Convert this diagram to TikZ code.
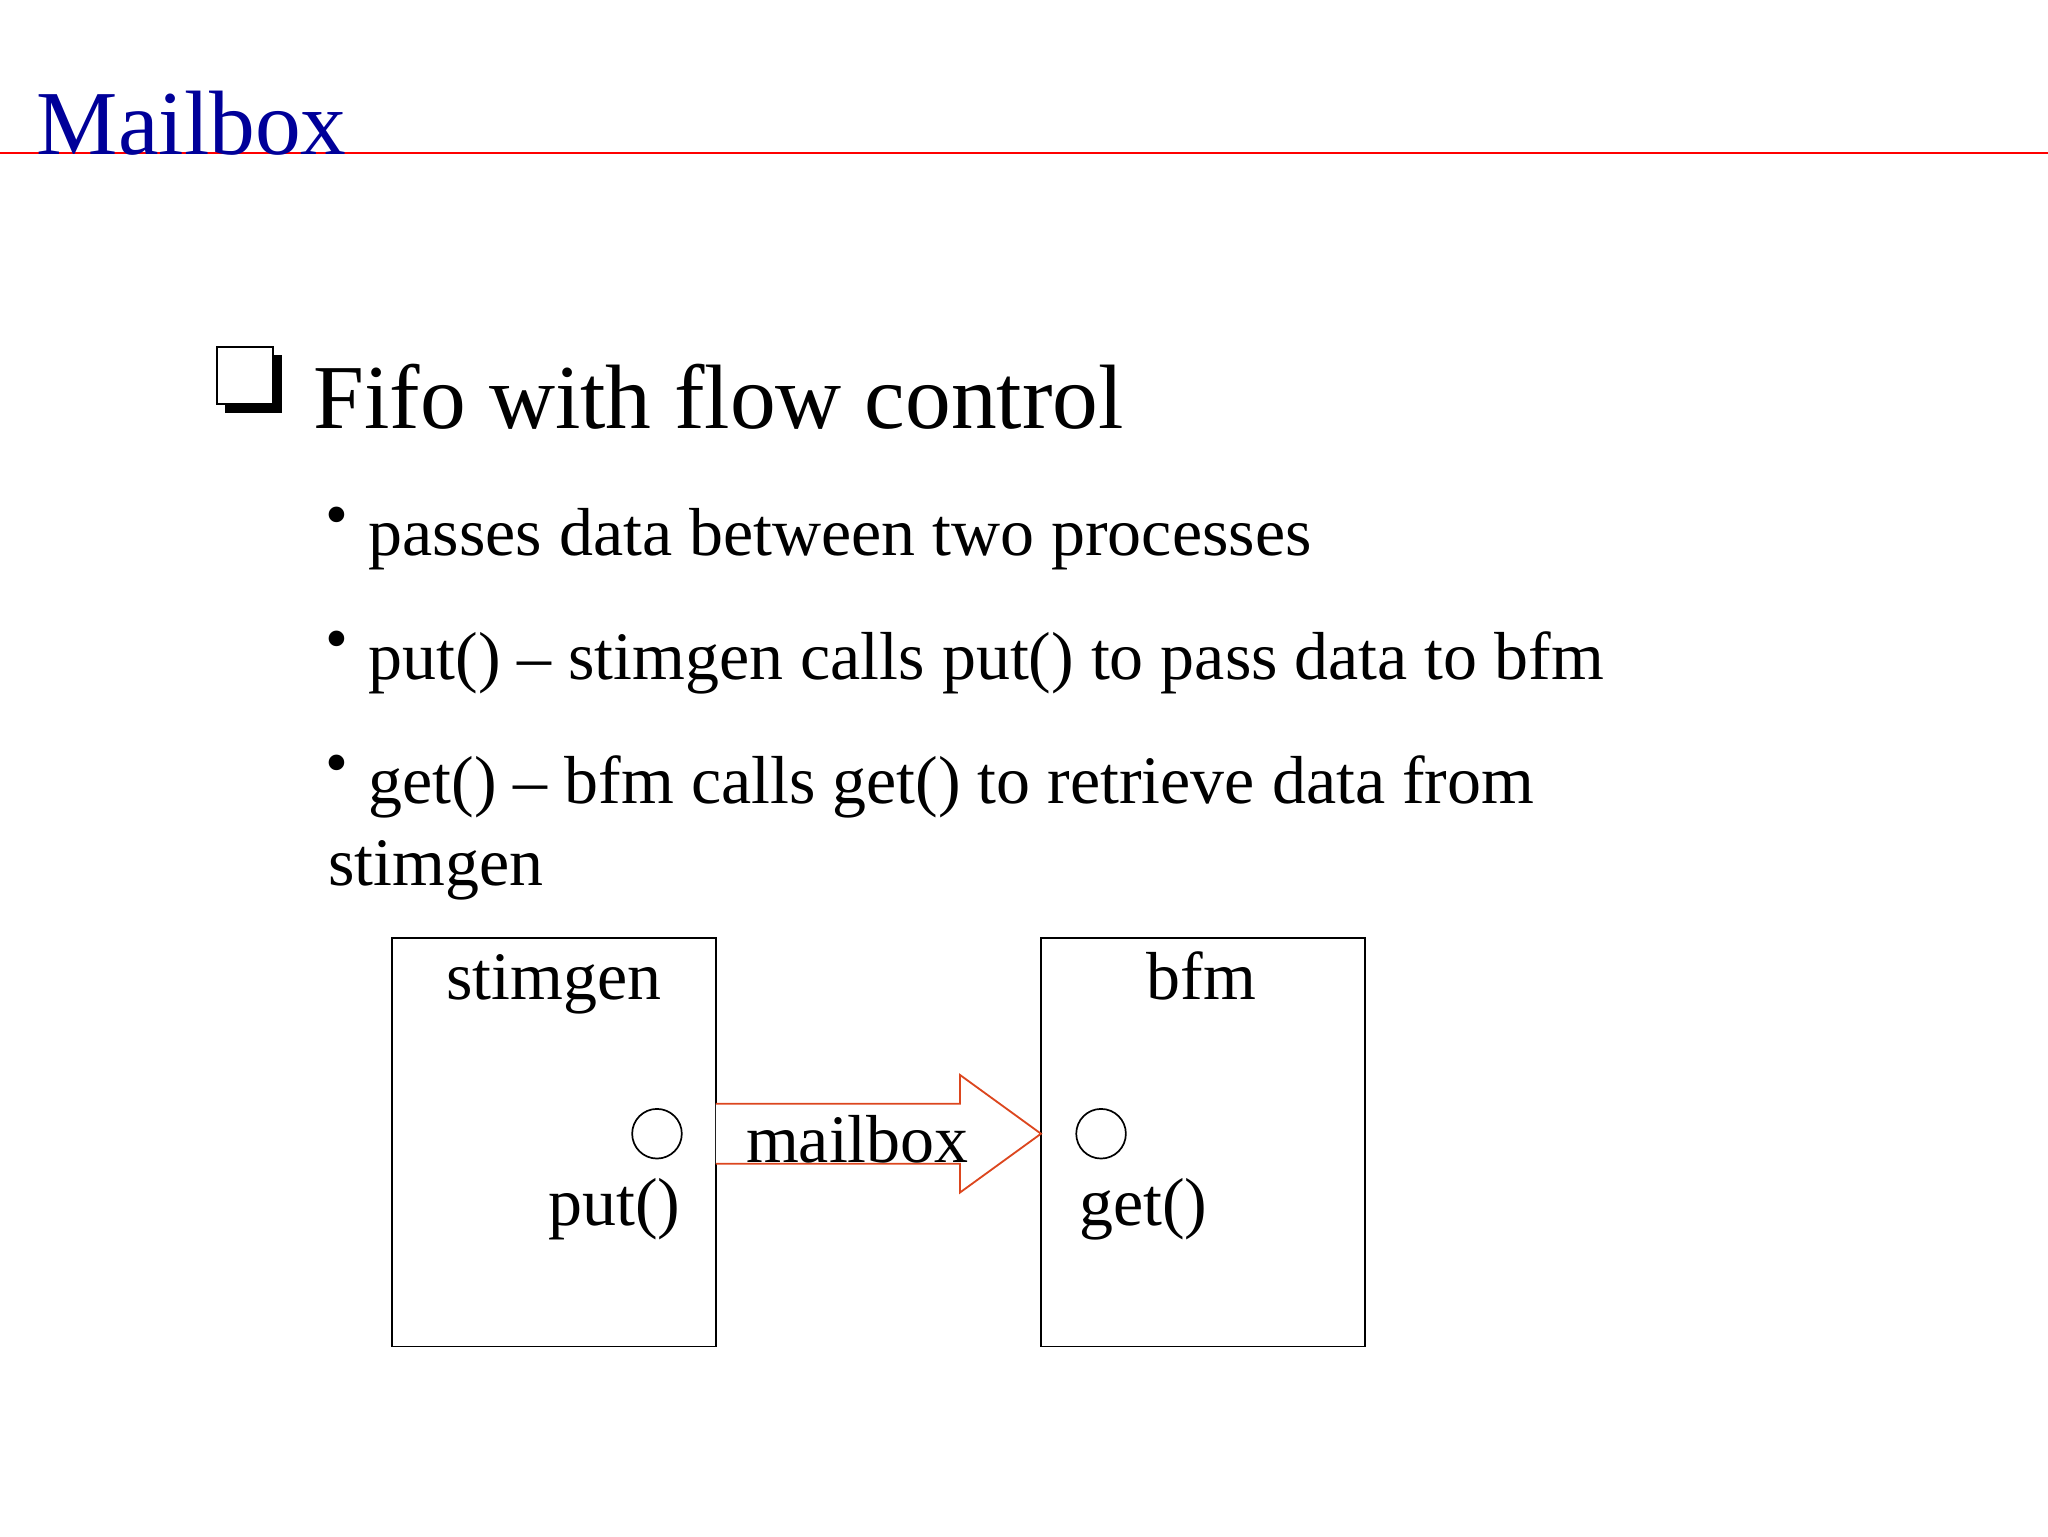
\documentclass[tikz,border=0pt]{standalone}
\usepackage{fontspec}
\setmainfont{Liberation Serif}
\begin{document}
\begin{tikzpicture}[x=1pt,y=-1pt,
  txt/.style={inner sep=0pt,font=\fontsize{52}{60}\selectfont},
  btxt/.style={inner sep=0pt,anchor=base west,font=\fontsize{52}{60}\selectfont},
  dot/.style={inner sep=0pt,anchor=base west,font=\fontsize{50}{55}\selectfont},
  box/.style={draw,line width=1.3pt}]
\useasboundingbox (0,0) rectangle (1568,1176);
\draw[red,line width=1.2pt] (0,117) -- (1568,117);
\node[inner sep=0pt,anchor=base west,text=blue!60!black,font=\fontsize{70}{80}\selectfont] (title) at (28,118) {Mailbox};
\fill (172,272) rectangle (216,316);
\draw[fill=white,line width=1.5pt] (166,266) rectangle (209,309);
\node[inner sep=0pt,anchor=base west,font=\fontsize{70}{80}\selectfont] (fifo) at (240,328) {Fifo with flow control};
\node[dot] (d1) at (249,411) {\textbullet};
\node[btxt] (b1) at (282,425) {passes data between two processes};
\node[dot] (d2) at (249,506) {\textbullet};
\node[btxt] (b2) at (282,520) {put() -- stimgen calls put() to pass data to bfm};
\node[dot] (d3) at (249,601) {\textbullet};
\node[btxt] (b3) at (282,615) {get() -- bfm calls get() to retrieve data from};
\node[btxt] (b4) at (251,678) {stimgen};
\draw[box] (300,718) rectangle (548,1031);
\draw[box] (797,718) rectangle (1045,1031);
\node[txt,anchor=base] (s) at (424,765) {stimgen};
\node[txt,anchor=base] (f) at (920,765) {bfm};
\draw[line width=1.3pt] (503,868) circle (19);
\draw[line width=1.3pt] (843,868) circle (19);
\node[txt,anchor=base east] (p) at (521,938) {put()};
\node[txt,anchor=base west] (g) at (826,938) {get()};
\draw[line width=1.4pt,draw={rgb,255:red,220;green,70;blue,30},fill=white]
  (548,845) -- (735,845) -- (735,823) -- (797,868) -- (735,913) -- (735,891) -- (548,891);
\node[txt,anchor=base west,font=\fontsize{52}{60}\selectfont] (m) at (571,890) {mailbox};
\end{tikzpicture}
\end{document}
